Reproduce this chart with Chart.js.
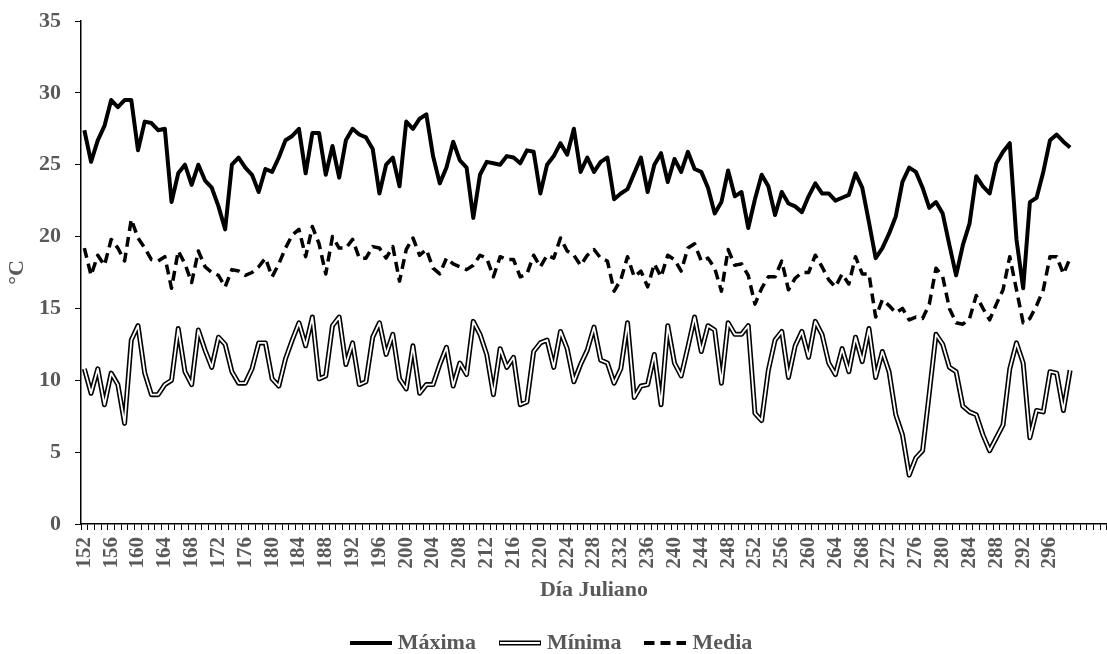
<!DOCTYPE html>
<html>
<head>
<meta charset="utf-8">
<script src="https://cdn.jsdelivr.net/npm/chart.js@4.4.1/dist/chart.umd.min.js"></script>
<style>
html,body{margin:0;padding:0;background:#fff;}
canvas{display:block;}
</style>
</head>
<body>
<canvas id="c" width="1107" height="654"></canvas>
<script>
// Categories (Julian day). The axis carries a few empty categories after the data.
const days = [
152,153,154,155,156,157,158,159,160,161,162,163,164,165,166,167,168,169,170,171,
172,173,174,175,176,177,178,179,180,181,182,183,184,185,186,187,188,189,190,191,
192,193,194,195,196,197,198,199,200,201,202,203,204,205,206,207,208,209,210,211,
212,213,214,215,216,217,218,219,220,221,222,223,224,225,226,227,228,229,230,231,
232,233,234,235,236,237,238,239,240,241,242,243,244,245,246,247,248,249,250,251,
252,253,254,255,256,257,258,259,260,261,262,263,264,265,266,267,268,269,270,271,
272,273,274,275,276,277,278,279,280,281,282,283,284,285,286,287,288,289,290,291,
292,293,294,295,296,297,298,299,300,301,302,303,304];

const tickLabels = ['152','156','160','164','168','172','176','180','184','188','192','196',
'200','204','208','212','216','220','224','228','232','236','240','244','248','252','256',
'260','264','268','272','276','280','284','288','292','296'];

const yTicks = [0,5,10,15,20,25,30,35];

const maxima = [
27.4,25.2,26.7,27.7,29.5,29.0,29.5,29.5,26.0,28.0,
27.9,27.4,27.5,22.4,24.4,25.0,23.6,25.0,23.9,23.4,
22.1,20.5,25.0,25.5,24.8,24.3,23.1,24.7,24.5,25.5,
26.7,27.0,27.5,24.4,27.2,27.2,24.3,26.3,24.1,26.7,
27.5,27.1,26.9,26.1,23.0,25.0,25.5,23.5,28.0,27.5,
28.2,28.5,25.6,23.7,24.8,26.6,25.3,24.8,21.3,24.3,
25.2,25.1,25.0,25.6,25.5,25.1,26.0,25.9,23.0,25.0,
25.6,26.5,25.7,27.5,24.5,25.5,24.5,25.2,25.5,22.6,
23.0,23.3,24.4,25.5,23.1,25.0,25.8,23.8,25.4,24.5,
25.9,24.7,24.5,23.4,21.6,22.4,24.6,22.8,23.1,20.6,
22.6,24.3,23.5,21.5,23.1,22.3,22.1,21.7,22.8,23.7,
23.0,23.0,22.5,22.7,22.9,24.4,23.4,21.0,18.5,19.2,
20.2,21.4,23.8,24.8,24.5,23.4,22.0,22.4,21.6,19.4,
17.3,19.4,20.9,24.2,23.5,23.0,25.1,25.9,26.5,19.8,
16.4,22.4,22.7,24.5,26.7,27.1,26.6,26.2];

const minima = [
10.8,9.1,10.8,8.3,10.5,9.7,7.0,12.8,13.8,10.5,
9.0,9.0,9.7,10.0,13.6,10.6,9.7,13.5,12.1,10.9,
13.0,12.5,10.6,9.8,9.8,10.8,12.6,12.6,10.1,9.6,
11.5,12.8,14.0,12.4,14.4,10.1,10.3,13.8,14.4,11.1,
12.6,9.7,9.9,13.0,14.0,11.8,13.2,10.1,9.4,12.4,
9.1,9.7,9.7,11.1,12.3,9.6,11.2,10.4,14.1,13.2,
11.8,9.0,12.2,10.9,11.6,8.3,8.5,12.0,12.6,12.8,
10.9,13.4,12.2,9.9,11.1,12.1,13.7,11.4,11.2,9.8,
10.8,14.0,8.8,9.6,9.7,11.8,8.3,13.8,11.2,10.3,
12.3,14.4,12.0,13.8,13.5,9.8,14.0,13.2,13.2,13.8,
7.7,7.2,10.7,12.8,13.4,10.2,12.4,13.4,11.6,14.1,
13.2,11.2,10.4,12.2,10.6,13.0,11.3,13.6,10.2,12.0,
10.6,7.6,6.2,3.4,4.6,5.1,9.1,13.2,12.5,10.9,
10.6,8.2,7.8,7.6,6.2,5.1,6.0,6.9,10.8,12.6,
11.2,6.0,7.9,7.8,10.6,10.5,7.9,10.7];

const media = [
19.2,17.3,18.7,18.0,19.8,19.2,18.3,21.2,19.9,19.2,
18.4,18.3,18.6,16.4,19.0,18.1,16.8,19.0,17.9,17.5,
17.3,16.5,17.7,17.6,17.3,17.5,17.9,18.5,17.2,18.1,
19.2,20.1,20.5,18.6,20.7,19.5,17.4,20.0,19.2,19.2,
19.8,18.5,18.5,19.3,19.2,18.5,19.3,16.9,19.1,19.9,
18.7,19.1,17.8,17.4,18.5,18.1,17.9,17.7,18.0,18.7,
18.5,17.2,18.6,18.4,18.4,17.2,17.4,18.7,17.9,18.7,
18.5,19.9,19.0,18.7,18.0,18.7,19.1,18.5,18.3,16.2,
17.0,18.6,17.2,17.6,16.5,18.1,17.2,18.7,18.4,17.6,
19.2,19.5,18.3,18.5,17.8,16.2,19.1,18.0,18.1,17.3,
15.3,16.4,17.2,17.2,18.3,16.3,17.1,17.5,17.5,18.7,
17.9,17.0,16.5,17.4,16.7,18.6,17.4,17.4,14.4,15.6,
15.2,14.7,15.0,14.2,14.4,14.3,15.3,17.8,17.2,15.0,
14.0,13.9,14.3,15.9,15.0,14.2,15.3,16.3,18.6,16.3,
14.0,14.3,15.2,16.3,18.6,18.6,17.4,18.5];

const seriesNames = ['Máxima', 'Mínima', 'Media'];

const GRAY = '#595959';
const FAM = "'Liberation Serif','Times New Roman',serif";

function legendSample(kind) {
  const c = document.createElement('canvas');
  c.width = 42; c.height = 10;
  const g = c.getContext('2d');
  g.strokeStyle = '#000';
  g.beginPath();
  if (kind === 'solid') {
    g.lineWidth = 4; g.moveTo(0, 5); g.lineTo(42, 5); g.stroke();
  } else if (kind === 'double') {
    g.lineWidth = 5; g.moveTo(0, 5); g.lineTo(42, 5); g.stroke();
    g.beginPath(); g.strokeStyle = '#fff'; g.lineWidth = 2; g.moveTo(1, 5); g.lineTo(41, 5); g.stroke();
  } else {
    g.lineWidth = 4; g.setLineDash([10, 6]); g.moveTo(0, 5); g.lineTo(42, 5); g.stroke();
  }
  return c;
}

const ctx = document.getElementById('c').getContext('2d');
new Chart(ctx, {
  type: 'line',
  data: {
    labels: days,
    datasets: [
      { label: seriesNames[0], data: maxima, borderColor: '#000', borderWidth: 4,
        borderJoinStyle: 'round', pointRadius: 0, tension: 0, order: 1, legendImg: legendSample('solid') },
      { label: seriesNames[1], data: minima, borderColor: '#000', borderWidth: 5,
        borderJoinStyle: 'round', pointRadius: 0, tension: 0, order: 1, legendImg: legendSample('double') },
      { label: seriesNames[2], data: media, borderColor: '#000', borderWidth: 3.5, borderDash: [10, 6],
        borderJoinStyle: 'round', pointRadius: 0, tension: 0, order: 1, legendImg: legendSample('dash') },
      { label: seriesNames[1] + ' inner', data: minima, borderColor: '#fff', borderWidth: 1.8,
        borderJoinStyle: 'round', pointRadius: 0, tension: 0, order: 0, inner: true }
    ]
  },
  options: {
    responsive: false,
    animation: false,
    devicePixelRatio: 1,
    layout: { padding: { top: 21, right: 0, left: 0, bottom: -10 } },
    plugins: {
      tooltip: { enabled: false },
      legend: {
        position: 'bottom',
        align: 'center',
        labels: {
          usePointStyle: true,
          pointStyleWidth: 32,
          padding: 28,
          color: GRAY,
          font: { family: FAM, size: 22, weight: 'bold' },
          generateLabels: (chart) => chart.data.datasets
            .map((ds, i) => ({ text: ds.label, pointStyle: ds.legendImg, datasetIndex: i,
              fontColor: GRAY, hidden: false, lineWidth: 0,
              strokeStyle: 'rgba(0,0,0,0)', fillStyle: 'rgba(0,0,0,0)' }))
            .filter(l => !chart.data.datasets[l.datasetIndex].inner)
        }
      }
    },
    scales: {
      x: {
        type: 'category',
        offset: true,
        afterFit: (s) => { s.height = 80; s.paddingLeft = 0; s.paddingRight = 0; },
        grid: { offset: true, drawOnChartArea: false, drawTicks: true, tickLength: 6, color: '#000', lineWidth: 1 },
        border: { display: true, color: '#000', width: 1.5 },
        ticks: {
          autoSkip: false, minRotation: 90, maxRotation: 90, padding: 7,
          color: GRAY, font: { family: FAM, size: 21, weight: 'bold' },
          callback: function (value) {
            const lab = String(this.getLabelForValue(value));
            return tickLabels.includes(lab) ? lab : '';
          }
        },
        title: { display: true, text: 'Día Juliano', color: GRAY,
          font: { family: FAM, size: 22, weight: 'bold' }, padding: { top: 0, bottom: 0 } }
      },
      y: {
        min: 0, max: 35,
        afterFit: (s) => { s.width = 81; s.paddingTop = 0; s.paddingBottom = 0; },
        afterBuildTicks: (s) => { s.ticks = yTicks.map(v => ({ value: v })); },
        grid: { drawOnChartArea: false, drawTicks: true, tickLength: 6, color: '#000', lineWidth: 1 },
        border: { display: true, color: '#000', width: 1.5 },
        ticks: { padding: 14, color: GRAY, font: { family: FAM, size: 22, weight: 'bold' } },
        title: { display: true, text: '°C', color: GRAY,
          font: { family: FAM, size: 22, weight: 'bold' }, padding: { top: 4, bottom: 0 } }
      }
    }
  }
});
</script>
</body>
</html>
